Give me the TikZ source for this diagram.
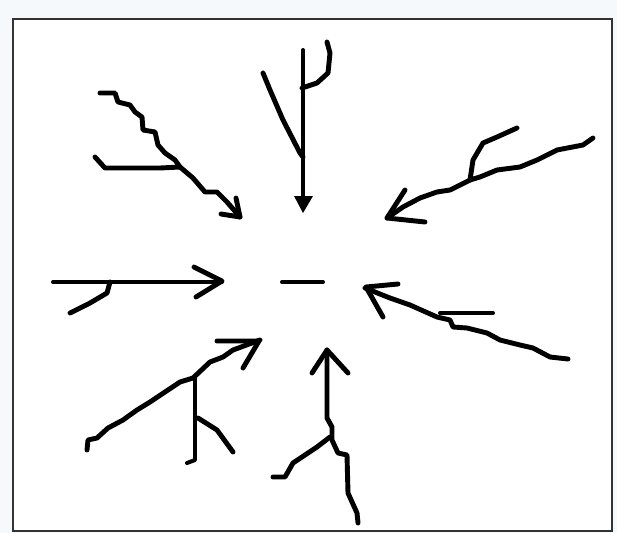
\documentclass[tikz,border=0pt]{standalone}
\begin{document}
\begin{tikzpicture}[x=0.03cm,y=-0.03cm,
  stroke/.style={line width=4.2pt,line cap=round,line join=round,black},
  thinstroke/.style={line width=3.4pt,line cap=round,line join=round,black}]
\fill[fill={rgb,255:red,246;green,249;blue,252}] (0,0) rectangle (617,533);
\useasboundingbox (0,0) rectangle (617,533);
\fill[white] (13,19) rectangle (612,531);
\draw[line width=1.8pt,draw={rgb,255:red,50;green,50;blue,50}] (13,19) rectangle (612,531);
% top-left arrow
\draw[stroke] (100,93)--(115,93)--(118,102)--(130,105)--(135,112)--(142,117)--(143,130)--(155,132)--(158,145)--(165,153)--(175,160)--(180,167)--(193,178)--(205,192)--(217,192)--(227,202)--(240,217);
\draw[stroke] (95,157)--(105,168)--(160,168)--(180,167);
\draw[stroke] (221,214)--(240,217)--(236,198);
% top arrow
\draw[thinstroke] (303,50)--(303,200);
\fill (294,196)--(313,196)--(303,213)--cycle;
\draw[stroke] (263,73)--(270,90)--(283,120)--(300,153)--(303,157);
\draw[stroke] (302,88)--(317,83)--(328,73)--(330,53)--(327,42);
% top-right arrow
\draw[stroke] (593,138)--(583,145)--(557,150)--(537,160)--(520,167)--(497,170)--(480,177)--(470,180)--(450,190)--(437,192)--(420,198)--(403,207)--(387,218);
\draw[stroke] (517,128)--(497,137)--(483,143)--(473,160)--(470,180);
\draw[stroke] (405,190)--(387,218)--(425,222);
% left arrow
\draw[thinstroke] (53,282)--(222,282);
\draw[stroke] (194,267)--(222,281)--(196,297);
\draw[stroke] (110,282)--(107,293)--(90,303)--(70,313);
% minus
\draw[thinstroke] (282,282)--(323,282);
% right arrow
\draw[stroke] (568,359)--(550,357)--(533,348)--(520,345)--(500,340)--(487,333)--(467,328)--(453,327)--(450,320)--(437,317)--(410,305)--(390,298)--(365,288);
\draw[stroke] (398,284)--(366,287)--(383,317);
\draw[thinstroke] (440,313)--(493,313);
% bottom-left arrow
\draw[stroke] (87,450)--(88,440)--(97,438)--(108,428)--(123,420)--(137,410)--(150,402)--(168,390)--(180,382)--(193,378)--(210,362)--(223,357)--(233,350)--(260,340);
\draw[stroke] (217,341)--(259,341)--(243,368);
\draw[thinstroke] (195,378)--(195,460)--(187,463);
\draw[stroke] (198,418)--(217,430)--(233,452);
% bottom arrow
\draw[stroke] (327,350)--(327,418)--(332,427)--(332,440)--(338,453)--(347,455)--(348,493)--(357,513)--(358,523);
\draw[stroke] (312,373)--(327,350)--(348,373);
\draw[stroke] (330,437)--(317,447)--(293,463)--(285,477)--(273,477);
\end{tikzpicture}
\end{document}
